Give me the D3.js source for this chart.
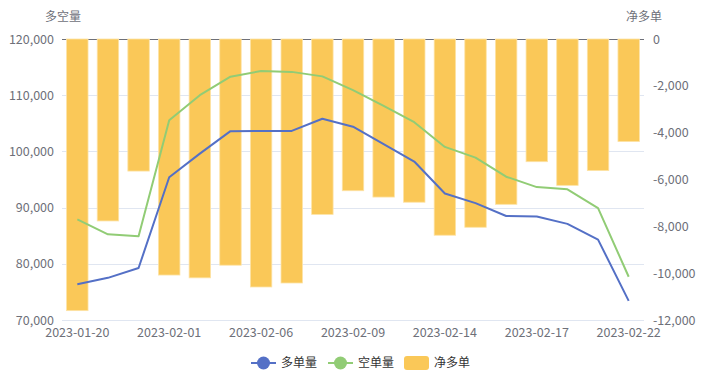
<!DOCTYPE html>
<html>
<head>
<meta charset="utf-8">
<script src="https://cdn.jsdelivr.net/npm/d3@7"></script>
<style>
	body { margin: 0; background: #fff; }
	svg text { font-family: "Noto Sans CJK SC", "Noto Sans", sans-serif; }
</style>
</head>
<body>
<div id="chart"></div>
<script>

	/* - - - DATA - - - */

	var dates = ['2023-01-20', '2023-01-30', '2023-01-31', '2023-02-01', '2023-02-02', '2023-02-03',
		'2023-02-06', '2023-02-07', '2023-02-08', '2023-02-09', '2023-02-10', '2023-02-13',
		'2023-02-14', '2023-02-15', '2023-02-16', '2023-02-17', '2023-02-20', '2023-02-21', '2023-02-22'];
	var longQty = [76350, 77500, 79250, 95400, 99600, 103600, 103650, 103650, 105800, 104400,
		101300, 98200, 92500, 90800, 88500, 88400, 87100, 84300, 73400];
	var shortQty = [87900, 85250, 84900, 105550, 110000, 113300, 114300, 114150, 113350, 110900,
		108100, 105200, 100800, 98900, 95500, 93650, 93250, 89900, 77700];
	var netLong = [-11600, -7770, -5640, -10080, -10200, -9660, -10590, -10420, -7490, -6480,
		-6750, -6970, -8380, -8040, -7060, -5240, -6250, -5620, -4380];
	var leftTicks = [70000, 80000, 90000, 100000, 110000, 120000];
	var rightTicks = [0, -2000, -4000, -6000, -8000, -10000, -12000];
	var xLabelEvery = 3;

	/* - - - END DATA - - - */

	var svgWidth = 726, svgHeight = 381;
	var plotLeft = 62, plotRight = 644, plotTop = 39, plotBottom = 320;
	var labelColor = '#6E7079';

	// plain hyphen for negatives, like the original
	var fmt = d3.formatLocale({ decimal: '.', thousands: ',', grouping: [3], currency: ['', ''], minus: '-' }).format(',');

	var svg = d3.select('#chart')
		.append('svg')
		.attr('width', svgWidth)
		.attr('height', svgHeight);

	var x = d3.scaleBand()
		.domain(dates)
		.range([plotLeft, plotRight])
		.paddingInner(0.3)
		.paddingOuter(0.15);
	var yLeft = d3.scaleLinear().domain([70000, 120000]).range([plotBottom, plotTop]);
	var yRight = d3.scaleLinear().domain([-12000, 0]).range([plotBottom, plotTop]);

	function cx(d) {
		return x(d) + x.bandwidth() / 2;
	}

	// grid lines follow the left axis
	svg.append('g')
		.selectAll('line')
		.data(leftTicks)
		.enter()
		.append('line')
		.attr('x1', plotLeft)
		.attr('x2', plotRight)
		.attr('y1', function (d) { return Math.round(yLeft(d)) + 0.5; })
		.attr('y2', function (d) { return Math.round(yLeft(d)) + 0.5; })
		.attr('stroke', '#E0E6F1');

	// x axis line sits on the zero of the right axis (top)
	svg.append('line')
		.attr('x1', plotLeft)
		.attr('x2', plotRight)
		.attr('y1', yRight(0) + 0.5)
		.attr('y2', yRight(0) + 0.5)
		.attr('stroke', labelColor);

	/* - - - BARS - - - */

	svg.append('g')
		.selectAll('rect')
		.data(netLong)
		.enter()
		.append('rect')
		.attr('x', function (d, i) { return x(dates[i]); })
		.attr('y', yRight(0))
		.attr('width', x.bandwidth())
		.attr('height', function (d) { return yRight(d) - yRight(0); })
		.attr('fill', '#fac858')
		.attr('stroke', '#fde3a6')
		.attr('stroke-width', 0.8);

	/* - - - LINES - - - */

	var line = d3.line()
		.x(function (d, i) { return cx(dates[i]); })
		.y(function (d) { return yLeft(d); });

	svg.append('path')
		.datum(shortQty)
		.attr('d', line)
		.attr('fill', 'none')
		.attr('stroke', '#91cc75')
		.attr('stroke-width', 2)
		.attr('stroke-linejoin', 'round');

	svg.append('path')
		.datum(longQty)
		.attr('d', line)
		.attr('fill', 'none')
		.attr('stroke', '#5470c6')
		.attr('stroke-width', 2)
		.attr('stroke-linejoin', 'round');

	/* - - - AXES - - - */

	function styleAxis(g) {
		g.select('.domain').remove();
		g.selectAll('text')
			.attr('fill', labelColor)
			.style('font-size', '12.5px');
	}

	svg.append('g')
		.attr('transform', 'translate(' + plotLeft + ',0)')
		.call(d3.axisLeft(yLeft).tickValues(leftTicks).tickSize(0).tickPadding(8).tickFormat(fmt))
		.call(styleAxis);

	svg.append('g')
		.attr('transform', 'translate(' + plotRight + ',0)')
		.call(d3.axisRight(yRight).tickValues(rightTicks).tickSize(0).tickPadding(9).tickFormat(fmt))
		.call(styleAxis);

	svg.append('g')
		.attr('transform', 'translate(0,' + plotBottom + ')')
		.call(d3.axisBottom(x)
			.tickValues(dates.filter(function (d, i) { return i % xLabelEvery === 0; }))
			.tickSize(0)
			.tickPadding(8))
		.call(styleAxis);

	svg.append('text')
		.attr('x', plotLeft + 1)
		.attr('y', 21)
		.attr('text-anchor', 'middle')
		.attr('fill', labelColor)
		.style('font-size', '12px')
		.text('多空量');

	svg.append('text')
		.attr('x', plotRight)
		.attr('y', 21)
		.attr('text-anchor', 'middle')
		.attr('fill', labelColor)
		.style('font-size', '12px')
		.text('净多单');

	/* - - - LEGEND - - - */

	var legendItems = [
		{ name: '多单量', color: '#5470c6', type: 'line' },
		{ name: '空单量', color: '#91cc75', type: 'line' },
		{ name: '净多单', color: '#fac858', type: 'bar' }
	];
	var legendX = [251, 328, 404];
	var legendY = 363;

	var legend = svg.append('g')
		.selectAll('g')
		.data(legendItems)
		.enter()
		.append('g')
		.attr('transform', function (d, i) { return 'translate(' + legendX[i] + ',' + legendY + ')'; });

	legend.each(function (d) {
		var g = d3.select(this);
		if (d.type === 'line') {
			g.append('line')
				.attr('x1', 0).attr('x2', 25)
				.attr('y1', 0).attr('y2', 0)
				.attr('stroke', d.color)
				.attr('stroke-width', 2);
			g.append('circle')
				.attr('cx', 12.5)
				.attr('cy', 0)
				.attr('r', 6.5)
				.attr('fill', d.color);
		} else {
			g.append('rect')
				.attr('x', 0).attr('y', -7)
				.attr('width', 25).attr('height', 14)
				.attr('rx', 3)
				.attr('fill', d.color);
		}
		g.append('text')
			.attr('x', 30)
			.attr('y', 0)
			.attr('dy', '0.35em')
			.attr('fill', '#333')
			.style('font-size', '12px')
			.text(d.name);
	});

</script>
</body>
</html>
